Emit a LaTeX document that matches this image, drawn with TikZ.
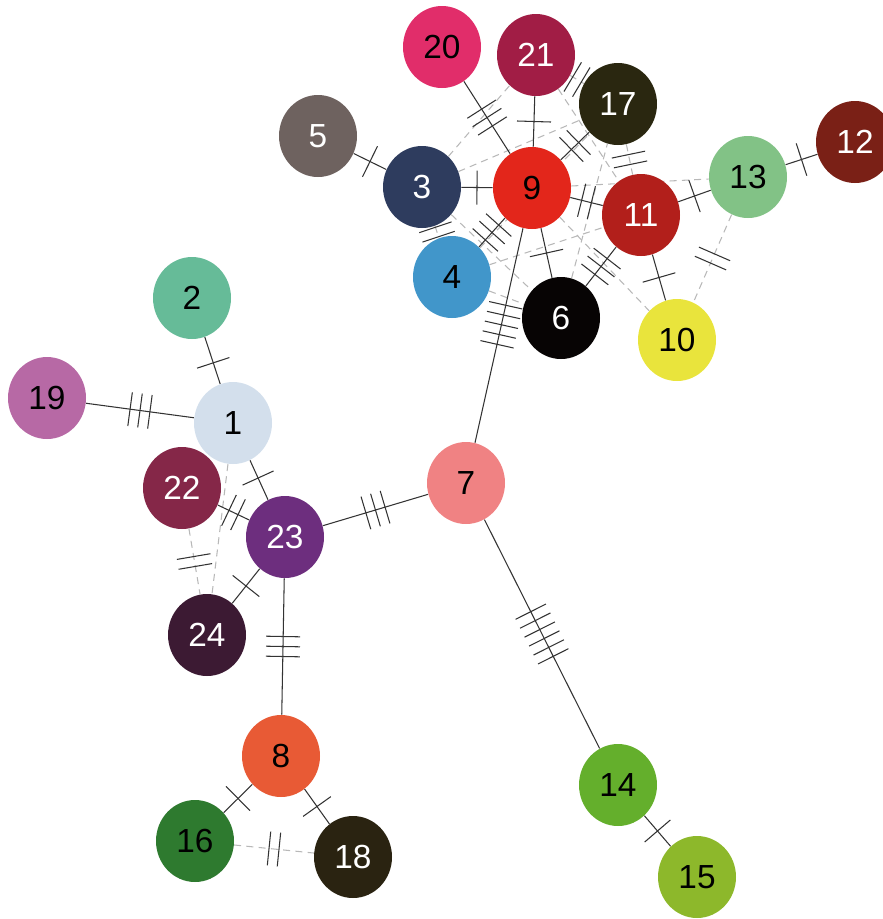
\documentclass[tikz,border=0pt]{standalone}
\usepackage{fontspec}
\setmainfont{Liberation Sans}
\usetikzlibrary{shapes.geometric,decorations.markings,backgrounds}

\newcommand{\hapfont}{\fontsize{19}{20}\selectfont}

% haplotype colours
\definecolor{c1}{HTML}{D3DFEC}
\definecolor{c2}{HTML}{66BB98}
\definecolor{c3}{HTML}{2E3C5E}
\definecolor{c4}{HTML}{4196CA}
\definecolor{c5}{HTML}{6E625F}
\definecolor{c6}{HTML}{070404}
\definecolor{c7}{HTML}{F08283}
\definecolor{c8}{HTML}{E85A35}
\definecolor{c9}{HTML}{E3261B}
\definecolor{c10}{HTML}{E9E43C}
\definecolor{c11}{HTML}{B21F1B}
\definecolor{c12}{HTML}{7A2016}
\definecolor{c13}{HTML}{82C286}
\definecolor{c14}{HTML}{64AF2C}
\definecolor{c15}{HTML}{8DB82B}
\definecolor{c16}{HTML}{2E7A2F}
\definecolor{c17}{HTML}{2A2710}
\definecolor{c18}{HTML}{2A2311}
\definecolor{c19}{HTML}{B769A5}
\definecolor{c20}{HTML}{E12D6A}
\definecolor{c21}{HTML}{A11D45}
\definecolor{c22}{HTML}{852748}
\definecolor{c23}{HTML}{6D2E7E}
\definecolor{c24}{HTML}{3C1A33}

\tikzset{
  hap/.style={ellipse, minimum width=1.56cm, minimum height=1.64cm, inner sep=0pt, font=\hapfont},
  dark/.style={hap, text=white},
  link/.style={draw=black!80, line width=0.6pt},
  alt/.style={draw=black!28, dash pattern=on 4pt off 3pt, line width=0.6pt},
  mut/.style 2 args={postaction={decorate, decoration={markings,
    mark=at position #2 with {\foreach \k in {1,...,#1}
      {\draw[solid, black!80, line width=0.6pt] ({(\k-(#1+1)/2)*0.2cm},-0.34cm) -- ++(0,0.68cm);}}}}},
}

\begin{document}
\begin{tikzpicture}
\useasboundingbox (0,0) rectangle (17.66,-18.38);

% haplotypes
\node[hap, fill=c1] (h1) at (4.66,-8.46) {1};
\node[hap, fill=c2] (h2) at (3.84,-5.96) {2};
\node[dark, fill=c3] (h3) at (8.44,-3.74) {3};
\node[hap, fill=c4] (h4) at (9.04,-5.54) {4};
\node[dark, fill=c5] (h5) at (6.36,-2.72) {5};
\node[dark, fill=c6] (h6) at (11.22,-6.36) {6};
\node[hap, fill=c7] (h7) at (9.32,-9.66) {7};
\node[hap, fill=c8] (h8) at (5.62,-15.12) {8};
\node[hap, fill=c9] (h9) at (10.64,-3.76) {9};
\node[hap, fill=c10] (h10) at (13.54,-6.80) {10};
\node[dark, fill=c11] (h11) at (12.82,-4.30) {11};
\node[dark, fill=c12] (h12) at (17.10,-2.84) {12};
\node[hap, fill=c13] (h13) at (14.96,-3.54) {13};
\node[hap, fill=c14] (h14) at (12.36,-15.70) {14};
\node[hap, fill=c15] (h15) at (13.94,-17.54) {15};
\node[hap, fill=c16] (h16) at (3.90,-16.82) {16};
\node[dark, fill=c17] (h17) at (12.36,-2.08) {17};
\node[dark, fill=c18] (h18) at (7.06,-17.14) {18};
\node[hap, fill=c19] (h19) at (0.94,-7.96) {19};
\node[hap, fill=c20] (h20) at (8.84,-0.94) {20};
\node[dark, fill=c21] (h21) at (10.72,-1.10) {21};
\node[dark, fill=c22] (h22) at (3.64,-9.76) {22};
\node[dark, fill=c23] (h23) at (5.70,-10.74) {23};
\node[dark, fill=c24] (h24) at (4.14,-12.70) {24};

\begin{pgfonlayer}{background}
% alternative links
\draw[alt] (h1) -- (h24);
\draw[alt, mut={2}{0.5}] (h22) -- (h24);
\draw[alt, mut={2}{0.5}] (h16) -- (h18);
\draw[alt, mut={2}{0.5}] (h13) -- (h10);
\draw[alt, mut={2}{0.5}] (h3) -- (h4);
\draw[alt, mut={2}{0.5}] (h21) -- (h17);
\draw[alt, mut={2}{0.5}] (h17) -- (h11);
\draw[alt] (h3) -- (h21);
\draw[alt] (h3) -- (h17);
\draw[alt] (h9) -- (h13);
\draw[alt] (h4) -- (h11);
\draw[alt] (h4) -- (h6);
\draw[alt] (h9) -- (h10);
\draw[alt] (h6) -- (h17);
\draw[alt] (h21) -- (h11);
\draw[alt] (h3) -- (h6);
\draw[alt] (h4) -- (h17);

% mutational steps
\draw[link, mut={3}{0.5}] (h19) -- (h1);
\draw[link, mut={1}{0.55}] (h2) -- (h1);
\draw[link, mut={1}{0.45}] (h1) -- (h23);
\draw[link, mut={2}{0.5}] (h22) -- (h23);
\draw[link, mut={3}{0.5}] (h23) -- (h7);
\draw[link, mut={1}{0.5}] (h23) -- (h24);
\draw[link, mut={3}{0.5}] (h23) -- (h8);
\draw[link, mut={1}{0.5}] (h8) -- (h16);
\draw[link, mut={1}{0.5}] (h8) -- (h18);
\draw[link, mut={6}{0.5}] (h7) -- (h14);
\draw[link, mut={1}{0.5}] (h14) -- (h15);
\draw[link, mut={5}{0.55}] (h7) -- (h9);
\draw[link, mut={1}{0.5}] (h9) -- (h3);
\draw[link, mut={1}{0.5}] (h3) -- (h5);
\draw[link, mut={3}{0.5}] (h9) -- (h20);
\draw[link, mut={1}{0.5}] (h9) -- (h21);
\draw[link, mut={2}{0.5}] (h9) -- (h17);
\draw[link, mut={2}{0.5}] (h9) -- (h11);
\draw[link, mut={3}{0.5}] (h9) -- (h4);
\draw[link, mut={1}{0.5}] (h9) -- (h6);
\draw[link, mut={3}{0.5}] (h11) -- (h6);
\draw[link, mut={1}{0.5}] (h11) -- (h10);
\draw[link, mut={1}{0.5}] (h11) -- (h13);
\draw[link, mut={1}{0.5}] (h13) -- (h12);
\end{pgfonlayer}
\end{tikzpicture}
\end{document}
